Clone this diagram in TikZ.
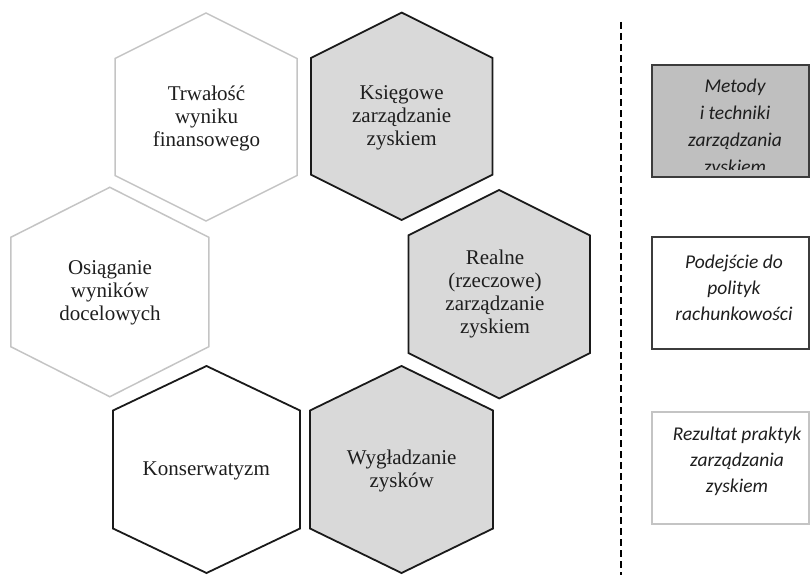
\documentclass[tikz,border=0pt]{standalone}
\usepackage{fontspec}
\setmainfont{Liberation Serif}
\newfontfamily\boxfont{Carlito}
\usetikzlibrary{calc}

\definecolor{hexfill}{HTML}{D9D9D9}
\definecolor{hexline}{HTML}{1A1A1A}
\definecolor{paleline}{HTML}{C4C4C4}
\definecolor{boxline}{HTML}{3C3C3C}
\definecolor{boxfill}{HTML}{BFBFBF}
\definecolor{inkgray}{HTML}{1E1E1E}

% hexagon outline: centre (#2,#3), half-width #4, half-height #5, side-vertex offset #6
\newcommand\hexcell[6][]{%
  \draw[#1] (#2,{#3-#5}) -- ({#2+#4},{#3-#6}) -- ({#2+#4},{#3+#6})
    -- (#2,{#3+#5}) -- ({#2-#4},{#3+#6}) -- ({#2-#4},{#3-#6}) -- cycle;}

\tikzset{
  darkhex/.style={draw=hexline, line width=1.8pt, line join=miter},
  shadedhex/.style={darkhex, fill=hexfill},
  palehex/.style={draw=paleline, line width=1.5pt, line join=miter},
  hextext/.style={align=center, text=inkgray,
    font=\fontsize{21}{23}\selectfont},
  keybox/.style={draw=boxline, line width=1.6pt, anchor=north west,
    inner sep=0pt, minimum width=157pt, minimum height=112pt},
  keytext/.style={align=center, text=inkgray,
    font=\boxfont\itshape\fontsize{19.5}{26}\selectfont},
}

\begin{document}
\begin{tikzpicture}[x=1pt, y=-1pt]
  \useasboundingbox (0,0) rectangle (810,578);

  % hexagon cells
  \hexcell[palehex]{206}{117}{91}{104}{58.5}
  \hexcell[shadedhex]{401.7}{116.3}{90.7}{103.7}{58.4}
  \hexcell[shadedhex]{499.2}{294.2}{90.8}{104.2}{58.8}
  \hexcell[palehex]{109.8}{292}{99}{104.7}{54.7}
  \hexcell[darkhex, fill=white]{206.5}{469.5}{93.5}{103.5}{59}
  \hexcell[shadedhex]{401.5}{469.5}{91.5}{103.5}{59}

  \node[hextext] (trw) at (206.5,118) {Trwałość\\wyniku\\finansowego};
  \node[hextext] (ksi) at (401.7,118) {Księgowe\\zarządzanie\\zyskiem};
  \node[hextext] (rea) at (495,294) {Realne\\(rzeczowe)\\zarządzanie\\zyskiem};
  \node[hextext] (osi) at (110,293) {Osiąganie\\wyników\\docelowych};
  \node[hextext] (kon) at (206.3,471) {Konserwatyzm};
  \node[hextext] (wyg) at (401.7,471) {Wygładzanie\\zysków};

  % separator
  \coordinate (sepTop) at (620.7,22);
  \coordinate (sepBot) at (620.7,575);
  \draw[black, line width=2pt, dash pattern=on 7pt off 4pt] (sepTop) -- (sepBot);

  % key boxes
  \node[keybox, fill=boxfill] (k1) at (651,64) {};
  \node[keybox, fill=white] (k2) at (651,236) {};
  \node[keybox, fill=white, draw=paleline] (k3) at (651,411) {};

  % the last line of the first key runs past the box and is cut off
  \begin{scope}
    \clip (652,65) rectangle (807,169);
    \node[keytext, font=\boxfont\itshape\fontsize{19.5}{27}\selectfont]
      (k1t) at (735,128) {Metody\\i techniki\\zarządzania\\zyskiem};
  \end{scope}
  \node[keytext] (k2t) at (734,288) {Podejście do\\polityk\\rachunkowości};
  \node[keytext] (k3t) at (737,461) {Rezultat praktyk\\zarządzania\\zyskiem};
\end{tikzpicture}
\end{document}
